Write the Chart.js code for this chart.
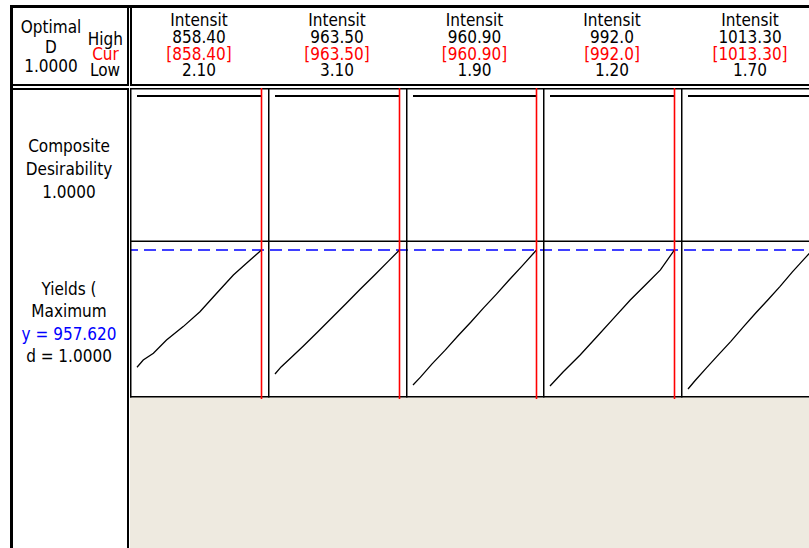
<!DOCTYPE html>
<html>
<head>
<meta charset="utf-8">
<script src="https://cdn.jsdelivr.net/npm/chart.js@4.4.1/dist/chart.umd.min.js"></script>
<style>
  html, body { margin:0; padding:0; width:809px; height:548px; overflow:hidden; background:#fff; }
  #page { position:relative; width:809px; height:548px; overflow:hidden; background:#fff; }
  .ln { position:absolute; background:#000; }
  .tx { position:absolute; white-space:nowrap; font-family:"DejaVu Sans Condensed","DejaVu Sans",sans-serif;
        font-stretch:condensed; font-size:17px; line-height:17px; color:#000; }
  canvas.cell { position:absolute; }
</style>
</head>
<body>
<div id="page"></div>
<script>
// factor settings
var factorName = 'Intensit';
var lowVals  = [2.10, 3.10, 1.90, 1.20, 1.70];
var highVals = [858.40, 963.50, 960.90, 992.0, 1013.30];
var curVals  = [858.40, 963.50, 960.90, 992.0, 1013.30];
var lowLabels  = ['2.10', '3.10', '1.90', '1.20', '1.70'];
var highLabels = ['858.40', '963.50', '960.90', '992.0', '1013.30'];
var curLabels  = ['[858.40]', '[963.50]', '[960.90]', '[992.0]', '[1013.30]'];

var optimalD = '1.0000';
var compositeD = 1.0;
var yieldTarget = 957.620;
var yieldD = '1.0000';

// composite desirability (flat at 1) per factor
var compY = [1, 1];

// predicted yields along each factor
var yieldX1 = [2.1, 45, 115, 205, 320, 435, 550, 665, 755, 858.4];
var yieldY1 = [178, 226, 271, 359, 448, 547, 670, 791, 869, 957.62];
var yieldX2 = [3.1, 50, 120, 220, 330, 440, 550, 660, 770, 880, 963.5];
var yieldY2 = [133, 180, 236, 318, 410, 505, 600, 697, 790, 885, 957.62];
var yieldX3 = [1.9, 60, 150, 250, 350, 450, 550, 650, 750, 850, 960.9];
var yieldY3 = [60, 112, 200, 290, 386, 477, 573, 664, 760, 852, 957.62];
var yieldX4 = [1.2, 107, 241, 374, 507, 640, 774, 880, 992];
var yieldY4 = [53, 148, 259, 381, 503, 625, 736, 825, 957.62];
var yieldX5 = [1.7, 60, 150, 250, 350, 450, 550, 650, 750, 850, 950, 1013.3];
var yieldY5 = [33, 90, 172, 262, 350, 445, 537, 625, 716, 812, 902, 957.62];

var yieldXs = [yieldX1, yieldX2, yieldX3, yieldX4, yieldX5];
var yieldYs = [yieldY1, yieldY2, yieldY3, yieldY4, yieldY5];

var page = document.getElementById('page');

function addLine(x, y, w, h, color) {
  var d = document.createElement('div');
  d.className = 'ln';
  d.style.left = x + 'px'; d.style.top = y + 'px';
  d.style.width = w + 'px'; d.style.height = h + 'px';
  if (color) d.style.background = color;
  page.appendChild(d);
  return d;
}

function addText(str, cx, baseline, color) {
  var d = document.createElement('div');
  d.className = 'tx';
  d.textContent = str;
  d.style.left = cx + 'px';
  d.style.top = (baseline - 14.4) + 'px';
  d.style.transform = 'translateX(-50%)';
  if (color) d.style.color = color;
  page.appendChild(d);
}

// beige area under the panels
addLine(129.5, 397, 680, 151, '#eeeae0');

// outer frame
addLine(9.5, 5, 3, 543);
addLine(9.5, 5, 800, 2.5);
// header boxes
addLine(127, 7, 1.5, 78.5);
addLine(12, 84, 116.5, 1.5);
addLine(130, 7, 1.5, 78.5);
addLine(130, 84, 679, 1.5);
// left body box
addLine(12, 88, 116.5, 1.5);
addLine(127, 88, 1.5, 460);

// header text, left
addText('Optimal', 51, 33.3);
addText('D', 51, 53);
addText(optimalD, 51, 72.7);
addText('High', 105.3, 45);
addText('Cur', 105.5, 60, '#ff0000');
addText('Low', 105, 76);

// row labels
addText('Composite', 69, 152.7);
addText('Desirability', 69, 175.5);
addText(compositeD.toFixed(4), 69, 198.3);
addText('Yields (', 69, 295);
addText('Maximum', 69, 317.3);
addText('y = ' + yieldTarget.toFixed(3), 69, 340, '#0000ff');
addText('d = ' + yieldD, 69, 362.7);

var cellPlugin = {
  id: 'cellFrame',
  beforeDatasetsDraw: function(chart, args, opts) {
    var ctx = chart.ctx;
    if (opts.target != null) {
      var yp = chart.scales.y.getPixelForValue(opts.target);
      ctx.save();
      ctx.strokeStyle = '#0000ff';
      ctx.lineWidth = 1.6;
      ctx.setLineDash([12, 6]);
      ctx.lineDashOffset = opts.dashOffset;
      ctx.beginPath();
      ctx.moveTo(0, yp);
      ctx.lineTo(chart.width, yp);
      ctx.stroke();
      ctx.restore();
    }
  },
  afterDatasetsDraw: function(chart, args, opts) {
    var ctx = chart.ctx;
    ctx.save();
    ctx.fillStyle = '#000';
    // left border
    ctx.fillRect(0, 0, 1.5, opts.frameBottom + 1.5);
    if (opts.drawTop) ctx.fillRect(0, 0, chart.width, 1.5);
    ctx.fillRect(0, opts.frameBottom, chart.width, 1.5);
    // current setting
    var xp = chart.scales.x.getPixelForValue(opts.cur);
    ctx.strokeStyle = '#ff0000';
    ctx.lineWidth = 1.6;
    ctx.beginPath();
    ctx.moveTo(xp, 0);
    ctx.lineTo(xp, chart.height);
    ctx.stroke();
    ctx.restore();
  }
};

function makeCell(left, top, w, h, i, points, yMin, yMax, pad, extra) {
  var cv = document.createElement('canvas');
  cv.className = 'cell';
  cv.width = w; cv.height = h;
  cv.style.left = left + 'px'; cv.style.top = top + 'px';
  cv.style.width = w + 'px'; cv.style.height = h + 'px';
  page.appendChild(cv);
  var frameOpts = { cur: curVals[i], frameBottom: extra.frameBottom, drawTop: extra.drawTop,
                    target: extra.target, dashOffset: left };
  return new Chart(cv.getContext('2d'), {
    type: 'line',
    data: {
      datasets: [{
        data: points,
        borderColor: '#000',
        borderWidth: extra.lineWidth,
        pointRadius: 0,
        tension: 0,
        fill: false,
        clip: 4
      }]
    },
    options: {
      responsive: false,
      animation: false,
      events: [],
      layout: { padding: pad },
      scales: {
        x: { type: 'linear', display: false, min: lowVals[i], max: highVals[i] },
        y: { type: 'linear', display: false, min: yMin, max: yMax }
      },
      plugins: {
        legend: { display: false },
        tooltip: { enabled: false },
        cellFrame: frameOpts
      }
    },
    plugins: [cellPlugin]
  });
}

var colStart = 130, colW = 137.75;
for (var i = 0; i < 5; i++) {
  var left = Math.round(colStart + i * colW);
  var right = Math.round(colStart + (i + 1) * colW);
  var w = right - left;
  var cx = left + w / 2;

  addText(factorName, cx, 26);
  addText(highLabels[i], cx, 43.3);
  addText(curLabels[i], cx, 60, '#ff0000');
  addText(lowLabels[i], cx, 76);

  var compPts = [{ x: lowVals[i], y: compY[0] }, { x: highVals[i], y: compY[1] }];
  makeCell(left, 88, w, 154, i, compPts, 0, 1,
    { left: 7, right: 6.5, top: 8, bottom: 12 },
    { frameBottom: 152.5, drawTop: true, target: null, lineWidth: 2 });

  var yPts = [];
  for (var k = 0; k < yieldXs[i].length; k++) {
    yPts.push({ x: yieldXs[i][k], y: yieldYs[i][k] });
  }
  makeCell(left, 241, w, 158, i, yPts, 0, 1000,
    { left: 7, right: 6.5, top: 2.6, bottom: 5 },
    { frameBottom: 155, drawTop: false, target: yieldTarget, lineWidth: 1.3 });
}
</script>
</body>
</html>
